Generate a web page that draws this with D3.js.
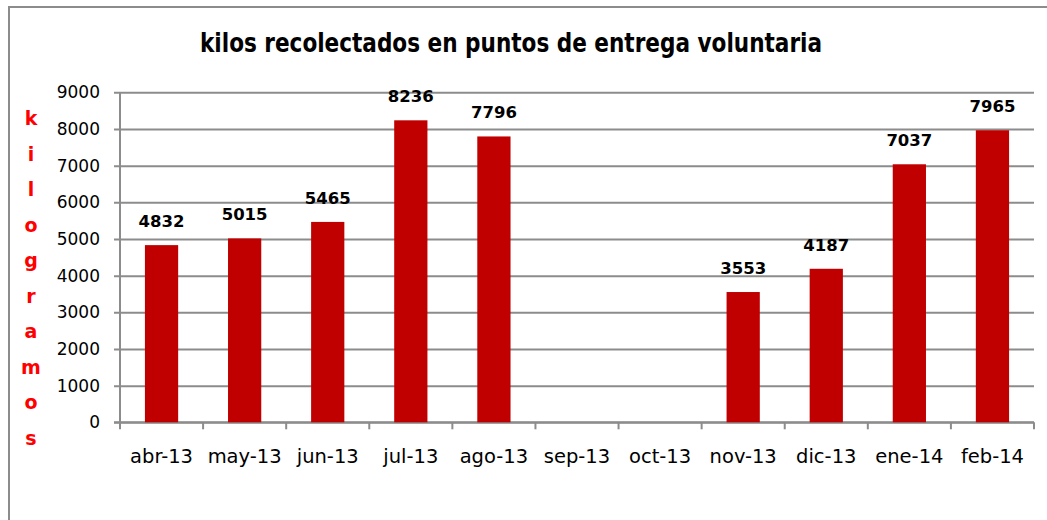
<!DOCTYPE html>
<html>
<head>
<meta charset="utf-8">
<script src="https://cdn.jsdelivr.net/npm/d3@7/dist/d3.min.js"></script>
<style>
  html, body { margin: 0; padding: 0; background: #fff; }
  svg { display: block; }
</style>
</head>
<body>
<svg id="chart" width="1047" height="520"></svg>
<script>
const categories = ["abr-13","may-13","jun-13","jul-13","ago-13","sep-13","oct-13","nov-13","dic-13","ene-14","feb-14"];
const values = [4832, 5015, 5465, 8236, 7796, null, null, 3553, 4187, 7037, 7965];
const yTicks = [0,1000,2000,3000,4000,5000,6000,7000,8000,9000];
const titleText = "kilos recolectados en puntos de entrega voluntaria";
const yLabel = "kilogramos";

const svg = d3.select("#chart");
const W = 1047, H = 520;
const plotLeft = 120, plotRight = 1034, plotTop = 92.3, plotBottom = 422.3;
const gridColor = "#8c8c8c";
const barColor = "#c00000";

// outer border (extends beyond the image on right/bottom)
svg.append("rect")
  .attr("x", 9).attr("y", 7).attr("width", W + 20).attr("height", H + 20)
  .attr("fill", "#fff").attr("stroke", gridColor).attr("stroke-width", 2);

const x = d3.scaleBand().domain(categories).range([plotLeft, plotRight])
  .paddingInner(0.6).paddingOuter(0.3);
const y = d3.scaleLinear().domain([0, 9000]).range([plotBottom, plotTop]);

// gridlines + y ticks
const yAxis = d3.axisLeft(y).tickValues(yTicks).tickSize(-(plotRight - plotLeft)).tickSizeOuter(0)
  .tickFormat(d3.format("d"));
const gy = svg.append("g").attr("transform", `translate(${plotLeft},0)`).call(yAxis);
gy.select(".domain").remove();
gy.selectAll(".tick line").attr("x1", -6).attr("stroke", gridColor).attr("stroke-width", 2);
gy.selectAll(".tick text")
  .attr("font-family", "DejaVu Sans").attr("font-size", 17).attr("fill", "#000")
  .attr("x", -20).attr("dy", "0.32em");

// y axis line
svg.append("line").attr("x1", plotLeft).attr("x2", plotLeft).attr("y1", plotTop).attr("y2", plotBottom + 6)
  .attr("stroke", gridColor).attr("stroke-width", 2);

// x axis line and tick marks at band boundaries
svg.append("line").attr("x1", plotLeft - 6).attr("x2", plotRight).attr("y1", plotBottom).attr("y2", plotBottom)
  .attr("stroke", gridColor).attr("stroke-width", 2);
const step = x.step();
const boundaries = d3.range(categories.length + 1).map(i => plotLeft + i * step);
svg.append("g").selectAll("line").data(boundaries).join("line")
  .attr("x1", d => d).attr("x2", d => d).attr("y1", plotBottom).attr("y2", plotBottom + 7)
  .attr("stroke", gridColor).attr("stroke-width", 2);

// bars
const data = categories.map((c, i) => ({c, v: values[i]})).filter(d => d.v != null);
svg.append("g").selectAll("rect").data(data).join("rect")
  .attr("x", d => x(d.c)).attr("width", x.bandwidth())
  .attr("y", d => y(d.v)).attr("height", d => y(0) - y(d.v))
  .attr("fill", barColor);

// data labels
svg.append("g").selectAll("text").data(data).join("text")
  .attr("x", d => x(d.c) + x.bandwidth() / 2)
  .attr("y", d => y(d.v) - 18)
  .attr("text-anchor", "middle")
  .attr("font-family", "DejaVu Sans").attr("font-weight", "bold").attr("font-size", 16.5)
  .attr("fill", "#000")
  .text(d => d.v);

// x labels
svg.append("g").selectAll("text").data(categories).join("text")
  .attr("x", d => x(d) + x.bandwidth() / 2)
  .attr("y", 463)
  .attr("text-anchor", "middle")
  .attr("font-family", "DejaVu Sans").attr("font-size", 19.5)
  .attr("fill", "#000")
  .text(d => d);

// title
svg.append("text")
  .attr("x", 511).attr("y", 52)
  .attr("text-anchor", "middle")
  .attr("font-family", "DejaVu Sans Condensed, DejaVu Sans").attr("font-weight", "bold").attr("font-size", 26)
  .attr("textLength", 622).attr("lengthAdjust", "spacingAndGlyphs")
  .attr("fill", "#000")
  .text(titleText);

// vertical y label, stacked letters
svg.append("g").selectAll("text").data(yLabel.split("")).join("text")
  .attr("x", 31).attr("y", (d, i) => 125 + i * 35.56)
  .attr("text-anchor", "middle")
  .attr("font-family", "DejaVu Sans").attr("font-weight", "bold").attr("font-size", 19)
  .attr("fill", "#ff0000")
  .text(d => d);
</script>
</body>
</html>
